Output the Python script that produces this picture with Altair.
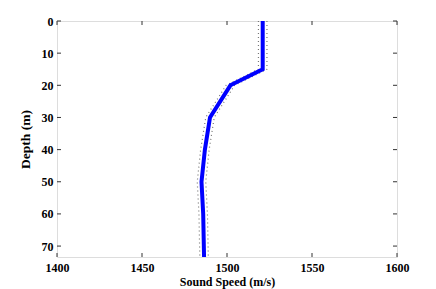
import altair as alt
import pandas as pd

depth = [0, 15, 20, 30, 40, 50, 60, 73.4]
speed = [1521, 1521, 1502, 1490, 1487, 1485, 1486, 1486.5]
spread = [2.5, 2.5, 2.5, 2.5, 2.5, 2.5, 2.5, 2.5]
x_ticks = [1400, 1450, 1500, 1550, 1600]
y_ticks = [0, 10, 20, 30, 40, 50, 60, 70]

W, H = 340, 236
df = pd.DataFrame({"depth": depth, "speed": speed})
df["lo"] = [s - d for s, d in zip(speed, spread)]
df["hi"] = [s + d for s, d in zip(speed, spread)]

font = "Liberation Serif"
xscale = alt.Scale(domain=[1400, 1600], nice=False, zero=False)
yscale = alt.Scale(domain=[0, 73.4], reverse=True, nice=False, zero=False)

xaxis = alt.Axis(values=x_ticks, format="d", labelPadding=5,
                 title="Sound Speed (m/s)", titlePadding=3)
yaxis = alt.Axis(values=y_ticks, format="d", labelPadding=4,
                 title="Depth (m)", titlePadding=9, titleFontSize=13.5)

base = alt.Chart(df)
lo = base.mark_line(color="#777777", strokeWidth=1.2, strokeDash=[1, 3]).encode(
    x=alt.X("lo:Q", scale=xscale, axis=xaxis),
    y=alt.Y("depth:Q", scale=yscale, axis=yaxis),
    order="depth:Q")
hi = base.mark_line(color="#777777", strokeWidth=1.2, strokeDash=[1, 3]).encode(
    x=alt.X("hi:Q", scale=xscale, axis=xaxis),
    y=alt.Y("depth:Q", scale=yscale, axis=yaxis),
    order="depth:Q")
main = base.mark_line(color="#0000ff", strokeWidth=4).encode(
    x=alt.X("speed:Q", scale=xscale, axis=xaxis),
    y=alt.Y("depth:Q", scale=yscale, axis=yaxis),
    order="depth:Q")

xt = pd.DataFrame({"t": x_ticks})
yt = pd.DataFrame({"t": y_ticks})
tick_color = "#333333"
xt_top = alt.Chart(xt).mark_rule(color=tick_color, strokeWidth=1).encode(
    x=alt.X("t:Q", scale=xscale, axis=xaxis), y=alt.value(0), y2=alt.value(4))
xt_bot = alt.Chart(xt).mark_rule(color=tick_color, strokeWidth=1).encode(
    x=alt.X("t:Q", scale=xscale, axis=xaxis), y=alt.value(H), y2=alt.value(H - 4))
yt_l = alt.Chart(yt).mark_rule(color=tick_color, strokeWidth=1).encode(
    y=alt.Y("t:Q", scale=yscale, axis=yaxis), x=alt.value(0), x2=alt.value(4))
yt_r = alt.Chart(yt).mark_rule(color=tick_color, strokeWidth=1).encode(
    y=alt.Y("t:Q", scale=yscale, axis=yaxis), x=alt.value(W), x2=alt.value(W - 4))

chart = alt.layer(lo, hi, main, xt_top, xt_bot, yt_l, yt_r).properties(
    width=W, height=H,
    autosize=alt.AutoSizeParams(type="none"),
    padding={"left": 49, "top": 13, "right": 31, "bottom": 32},
).configure_view(stroke="#333333", strokeWidth=1).configure(background="white").configure_axis(
    ticks=False, grid=False, domain=False, labelFlush=False, labelOverlap=False,
    labelFont=font, labelFontSize=12, labelFontWeight="bold", labelColor="black",
    titleFont=font, titleFontSize=12, titleFontWeight="bold", titleColor="black",
)

chart.save("out.html", embed_options={"renderer": "svg", "actions": False})
